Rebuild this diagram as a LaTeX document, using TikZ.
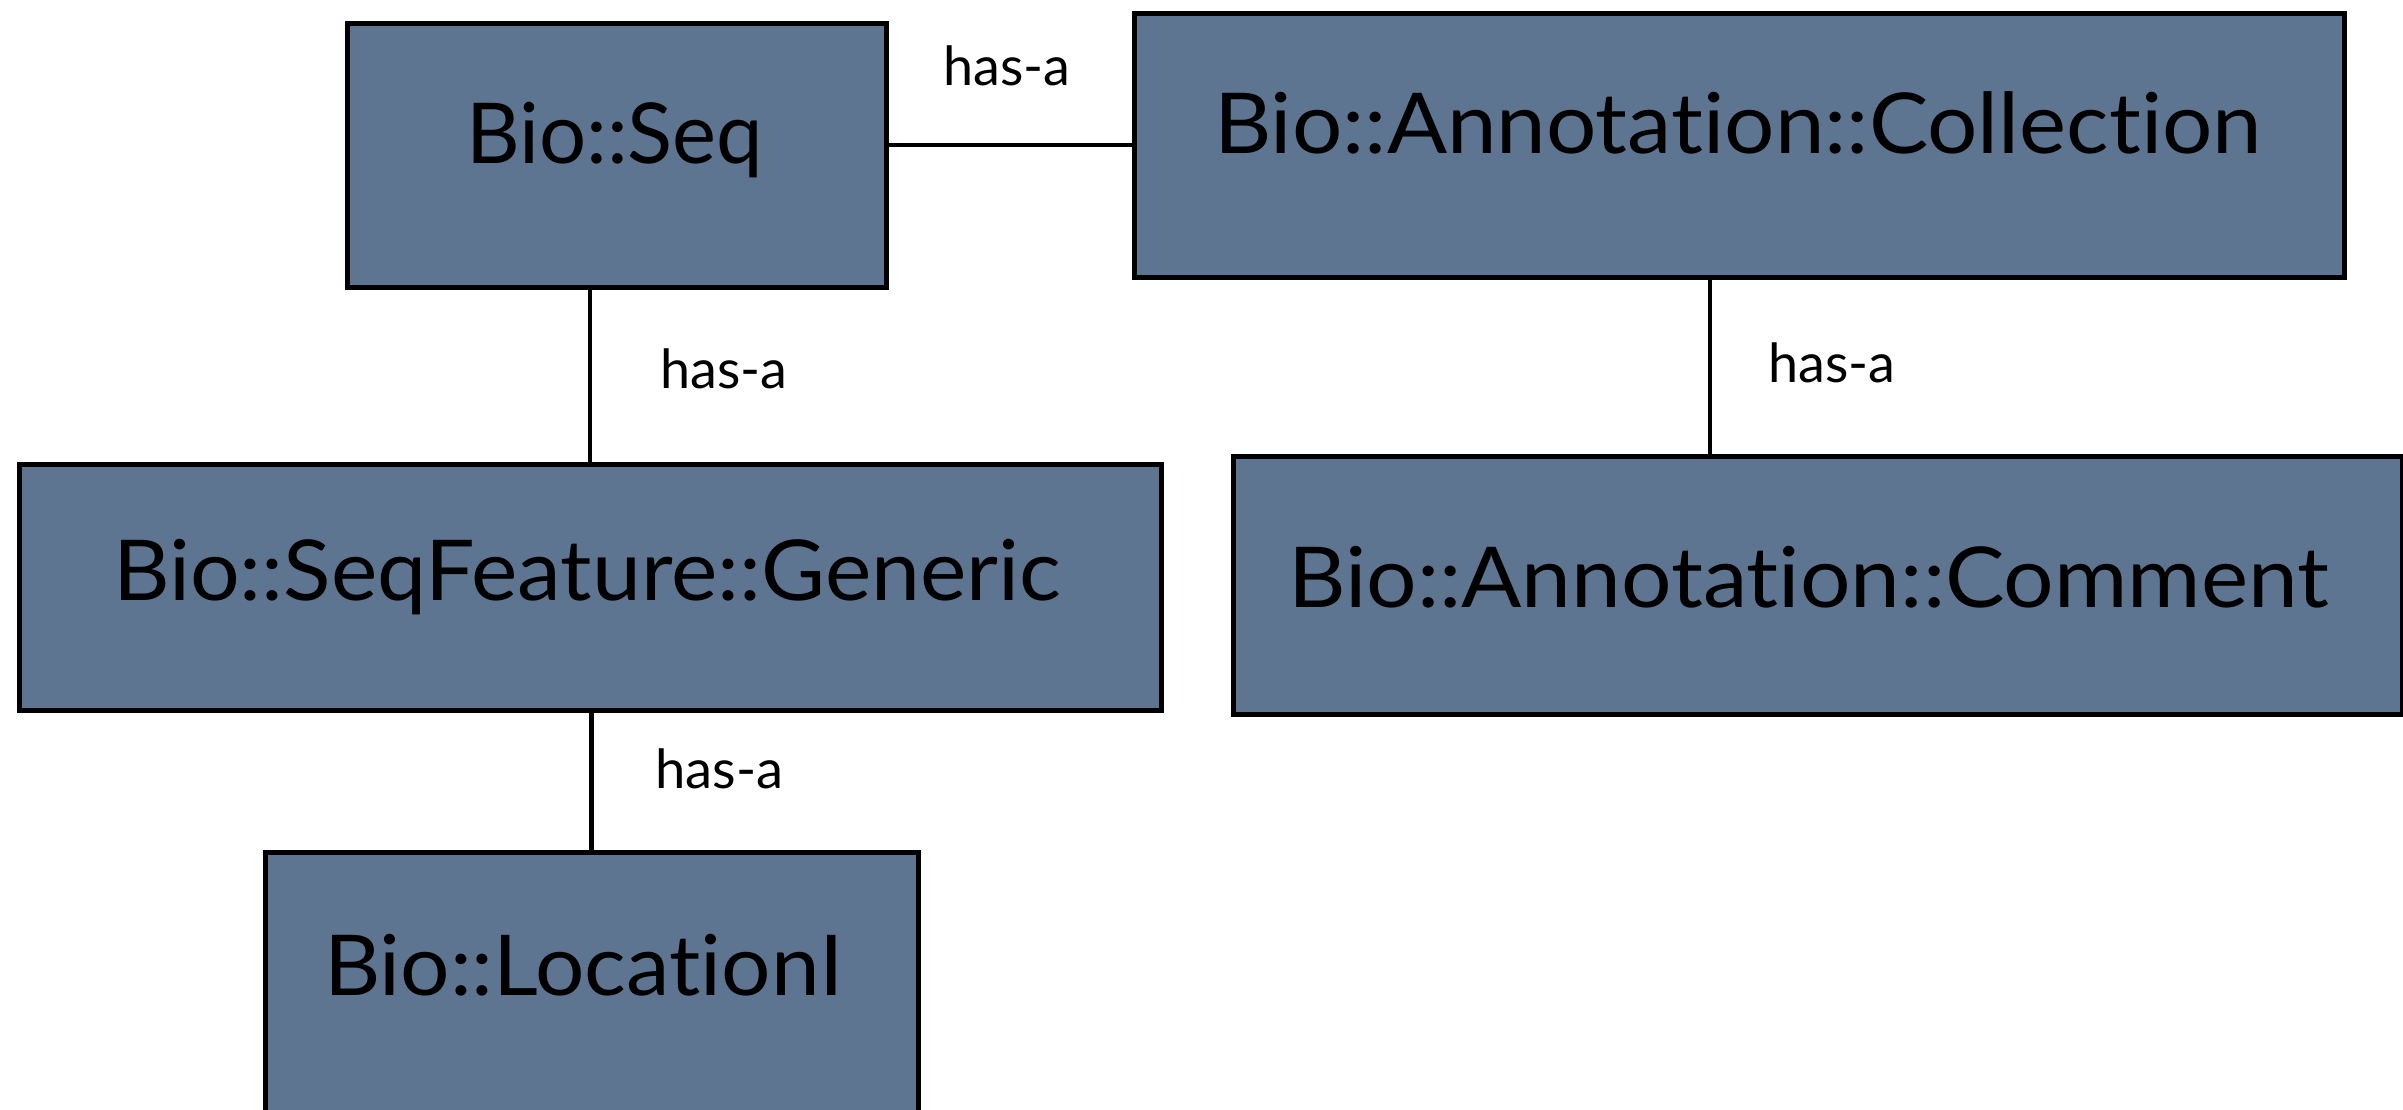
\documentclass[tikz,border=0pt]{standalone}
\usepackage{fontspec}
\usepackage{graphicx}
\setmainfont{Lato}[Ligatures={NoCommon}]
\definecolor{boxfill}{HTML}{5E7592}
\newcommand\fitw[2]{\resizebox{#1}{\height}{#2}}
\newcommand\tisep{t\kern0pt{}i}
\begin{document}
\begin{tikzpicture}[x=1pt,y=-1pt,
  classbox/.style={draw=black, fill=boxfill, line width=5pt, rectangle, anchor=north west, inner sep=0pt},
  boxtext/.style={anchor=base west, inner sep=0pt, font=\fontsize{84}{90}\selectfont},
  reltext/.style={anchor=base west, inner sep=0pt, font=\fontsize{54}{60}\selectfont},
  rel/.style={draw=black, line width=4.5pt}]
\useasboundingbox (0,0) rectangle (2403,1109);
\fill[white] (0,0) rectangle (2403,1109);
% boxes
\node[classbox, minimum width=539pt, minimum height=264pt] (seq) at (344.5,20.5) {};
\node[classbox, minimum width=1210pt, minimum height=264pt] (coll) at (1131.5,10.5) {};
\node[classbox, minimum width=1142pt, minimum height=246pt] (feat) at (16.5,461.5) {};
\node[classbox, minimum width=1169pt, minimum height=258pt] (comm) at (1230.5,453.5) {};
\node[classbox, minimum width=653pt, minimum height=320pt] (loc) at (262.5,849.5) {};
% box texts
\node[boxtext] (tseq) at (466,163) {\fitw{297pt}{Bio::Seq}};
\node[boxtext] (tcoll) at (1214,153) {\fitw{1048pt}{Bio::Annota\tisep on::Collec\tisep on}};
\node[boxtext] (tfeat) at (113,600) {\fitw{948pt}{Bio::SeqFeature::Generic}};
\node[boxtext] (tcomm) at (1288,607) {\fitw{1041pt}{Bio::Annota\tisep on::Comment}};
\node[boxtext] (tloc) at (324,995) {\fitw{519pt}{Bio::Loca\tisep onI}};
% connectors
\coordinate (cx) at (1710,0);
\draw[rel] (seq.east |- coll.west) -- (coll.west);
\draw[rel] (feat.north) -- (feat.north |- seq.south);
\draw[rel] (loc.north) -- (loc.north |- feat.south);
\draw[rel] ([yshift=5pt]cx |- coll.south) -- (cx |- comm.north);
% relation labels
\node[reltext] (r1) at (943,85) {\fitw{127pt}{has-a}};
\node[reltext] (r2) at (660,388) {\fitw{127pt}{has-a}};
\node[reltext] (r3) at (1768,382) {\fitw{127pt}{has-a}};
\node[reltext] (r4) at (655,788) {\fitw{128pt}{has-a}};
\end{tikzpicture}
\end{document}
